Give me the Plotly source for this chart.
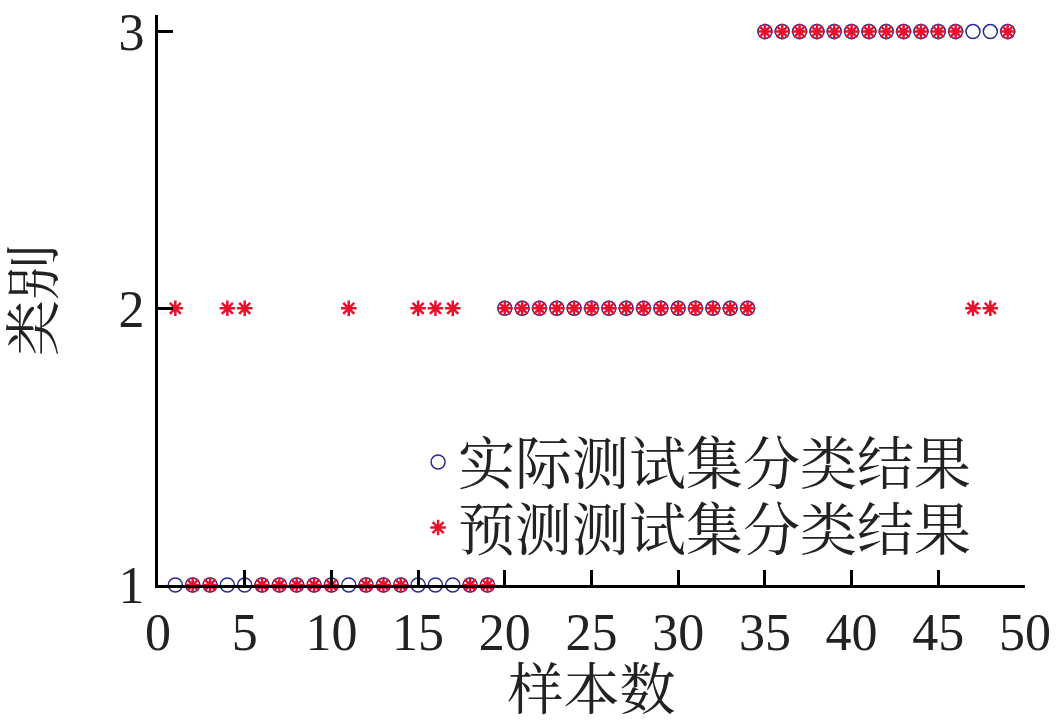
import plotly.graph_objects as go

samples = list(range(1, 50))
actual = [1]*19 + [2]*15 + [3]*15
predicted = [2, 1, 1, 2, 2, 1, 1, 1, 1, 1, 2, 1, 1, 1, 2, 2, 2, 1, 1] + [2]*15 + [3]*12 + [2, 2, 3]
x_ticks = [0, 5, 10, 15, 20, 25, 30, 35, 40, 45, 50]
y_ticks = [1, 2, 3]

font_fam = "Liberation Serif, Noto Serif CJK SC, Noto Sans CJK SC, serif"

fig = go.Figure()
fig.add_trace(go.Scatter(
    x=samples, y=actual, mode="markers", name="实际测试集分类结果",
    marker=dict(symbol="circle-open", size=14, color="#2a2a90", line=dict(width=1.5)),
    cliponaxis=False, legend="legend",
))
fig.add_trace(go.Scatter(
    x=samples, y=predicted, mode="markers", name="预测测试集分类结果",
    marker=dict(symbol="asterisk-open", size=13, color="#e8102a", line=dict(width=2.5, color="#e8102a")),
    cliponaxis=False, legend="legend2",
))

leg_common = dict(xanchor="left", yanchor="middle", bgcolor="rgba(0,0,0,0)",
                  font=dict(size=57), itemwidth=30)

fig.update_layout(
    width=1059, height=721,
    margin=dict(l=158, r=34, t=15, b=136),
    plot_bgcolor="white", paper_bgcolor="white",
    font=dict(family=font_fam, color="#222222", size=40),
    showlegend=True,
    legend=dict(x=0.30, y=0.215, **leg_common),
    legend2=dict(x=0.30, y=0.10, **leg_common),
    xaxis=dict(range=[0, 50], tickvals=x_ticks, ticks="inside", ticklen=15, tickwidth=3,
               tickcolor="black", showline=True, linecolor="black", linewidth=3,
               showgrid=False, zeroline=False, tickfont=dict(size=52), automargin=False,
               ticklabeloverflow="allow",
               title=dict(text="样本数", font=dict(size=56), standoff=14)),
    yaxis=dict(range=[1, 3.06], tickvals=y_ticks, ticks="inside", ticklen=15, tickwidth=3,
               tickcolor="black", showline=True, linecolor="black", linewidth=3,
               showgrid=False, zeroline=False, tickfont=dict(size=52), automargin=False,
               ticklabeloverflow="allow",
               title=dict(text="类别", font=dict(size=56), standoff=47)),
)

fig.write_html("out.html", config={"displayModeBar": False},
               post_script="document.body.style.margin='0';")
